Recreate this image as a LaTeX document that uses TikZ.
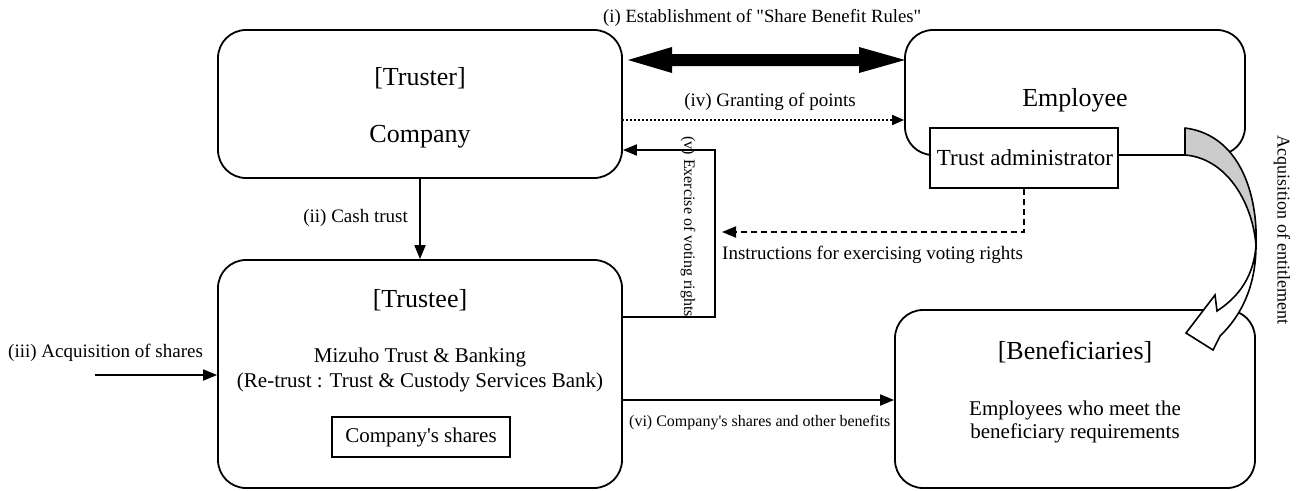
\documentclass[tikz,border=0pt]{standalone}
\usepackage{fontspec}
\setmainfont{Liberation Serif}
\usetikzlibrary{arrows.meta,calc}
\newcommand\fsz[1]{\fontsize{#1}{#1}\selectfont}
\begin{document}
\begin{tikzpicture}[x=1pt,y=-1pt,
  bigbox/.style={draw, line width=1.8pt, rounded corners=28pt, inner sep=0pt},
  sqbox/.style={draw, line width=1.8pt, inner sep=0pt, fill=white},
  txt/.style={inner sep=0pt, align=center},
  arr/.style={-{Triangle[length=14pt,width=11pt]}, line width=1.8pt},
  dashedarr/.style={-{Triangle[length=14pt,width=11pt]}, line width=1.8pt, dash pattern=on 6pt off 4pt},
  dottedarr/.style={-{Triangle[length=12pt,width=10pt]}, line width=1.8pt, dash pattern=on 2pt off 2pt}]
\useasboundingbox (0,0) rectangle (1297,490);

% boxes
\node[bigbox, minimum width=404pt, minimum height=148pt] (truster) at (420,104) {};
\node[bigbox, minimum width=340pt, minimum height=125pt] (employee) at (1075,92.5) {};
\node[bigbox, minimum width=404pt, minimum height=228pt] (trustee) at (420,374) {};
\node[bigbox, minimum width=360pt, minimum height=178pt] (benef) at (1075,399) {};
\node[sqbox, minimum width=188pt, minimum height=60pt] (tadmin) at (1024,158) {};
\node[sqbox, minimum width=178pt, minimum height=40pt] (shares) at (421,437) {};

% texts in boxes
\node[txt, font=\fsz{26}] (t1) at (420,78) {[Truster]};
\node[txt, font=\fsz{26}] (t2) at (420,137) {Company};
\node[txt, font=\fsz{26}] (t3) at (1075,100) {Employee};
\node[txt, font=\fsz{23}] (t4) at (1025,158) {Trust administrator};
\node[txt, font=\fsz{26}] (t5) at (420,300) {[Trustee]};
\node[txt, font=\fsz{21}] (t6) at (420,357) {Mizuho Trust \& Banking};
\node[txt, font=\fsz{21}] (t7) at (420,382) {(Re-trust : Trust \& Custody Services Bank)};
\node[txt, font=\fsz{21}] (t8) at (shares.center) {Company\textquotesingle s shares};
\node[txt, font=\fsz{26}] (t9) at (1075,352) {[Beneficiaries]};
\node[txt, font=\fsz{21}] (t10) at (1075,410) {Employees who meet the};
\node[txt, font=\fsz{21}] (t11) at (1075,433) {beneficiary requirements};

% (i) double thick arrow
\fill (628,60) -- (672,47) -- (672,54) -- (859,54) -- (859,47) -- (905,60)
  -- (859,73) -- (859,66) -- (672,66) -- (672,73) -- cycle;
\node[txt, font=\fsz{18.7}, anchor=west] (l1) at (603,18) {(i) Establishment of \textquotedbl Share Benefit Rules\textquotedbl};

% (ii)
\draw[arr] (truster.south) -- (trustee.north);
\node[txt, font=\fsz{19}, anchor=east] (l2) at (408,218) {(ii) Cash trust};

% (iii)
\coordinate (src) at (95,375);
\draw[arr] (src) -- (src -| trustee.west);
\node[txt, font=\fsz{19}, anchor=west] (l3) at (8,353) {(iii) Acquisition of shares};

% (iv)
\coordinate (iv) at (622,120);
\draw[dottedarr] (iv) -- (iv -| employee.west);
\node[txt, font=\fsz{19}] (l4) at (770,102) {(iv) Granting of points};

% (v)
\coordinate (vb) at (622,317);
\coordinate (vc) at (715,150);
\draw[arr] (vb -| trustee.east) -| (vc) -- (vc -| truster.east);
\node[txt, font=\fsz{16}, rotate=-90, anchor=east] (l5) at (688,317) {(v) Exercise of voting rights};

% instructions
\coordinate (ins) at (722,232);
\draw[dashedarr] (tadmin.south) |- (ins);
\node[txt, font=\fsz{19}, anchor=west] (l6) at (722,255) {Instructions for exercising voting rights};

% (vi)
\coordinate (vi) at (622,400);
\draw[arr] (vi -| trustee.east) -- (vi -| benef.west);
\node[txt, font=\fsz{16}, anchor=west] (l7) at (629,423) {(vi) Company\textquotesingle s shares and other benefits};

% curved arrow: acquisition of entitlement
\filldraw[fill=black!20, line width=1.6pt, line join=round]
  (1185,128) -- (1185,155) .. controls (1225,158) and (1252,200) .. (1256,245)
  .. controls (1258,195) and (1240,135) .. cycle;
\filldraw[fill=white, line width=1.6pt, line join=miter]
  (1256,245) .. controls (1254,275) and (1240,296) .. (1217,311)
  -- (1215,295) -- (1186,333) -- (1213,350) -- (1220,336)
  .. controls (1242,315) and (1256,285) .. (1256,245) -- cycle;
\node[txt, font=\fsz{18}, rotate=-90] (l8) at (1282,230) {Acquisition of entitlement};
\end{tikzpicture}
\end{document}
